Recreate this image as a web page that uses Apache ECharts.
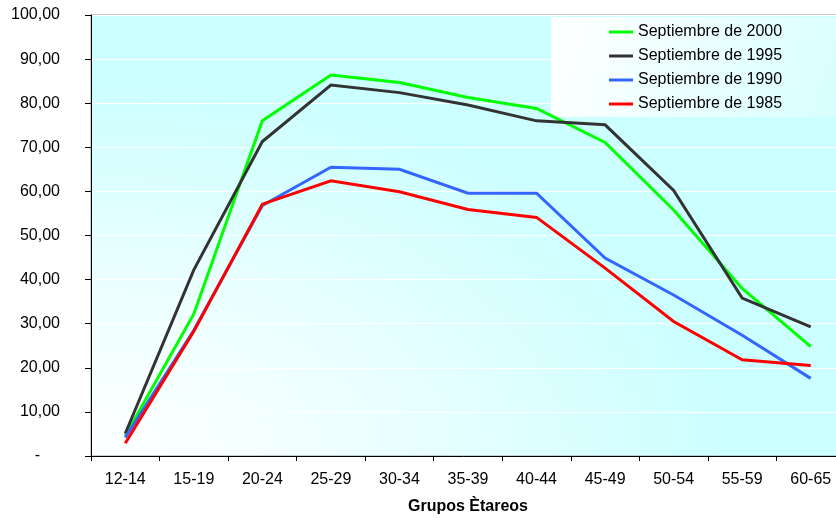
<!DOCTYPE html>
<html>
<head>
<meta charset="utf-8">
<title>Grupos Ètareos</title>
<script src="https://cdn.jsdelivr.net/npm/echarts@6/dist/echarts.min.js"></script>
<style>
  html, body { margin: 0; padding: 0; background: #ffffff; }
  #chart { width: 836px; height: 518px; }
</style>
</head>
<body>
<div id="chart"></div>
<script>
// Age groups on the category axis
const categories = ['12-14', '15-19', '20-24', '25-29', '30-34', '35-39', '40-44', '45-49', '50-54', '55-59', '60-65'];

// Rates per survey (September of each year)
const sep2000 = [4.6, 32.2, 76.0, 86.4, 84.7, 81.3, 78.8, 71.1, 55.8, 38.0, 24.8];
const sep1995 = [5.1, 42.2, 71.3, 84.1, 82.4, 79.6, 76.0, 75.1, 60.2, 35.8, 29.3];
const sep1990 = [4.2, 28.5, 56.8, 65.5, 65.0, 59.6, 59.6, 44.9, 36.5, 27.4, 17.6];
const sep1985 = [2.9, 28.3, 57.1, 62.4, 59.9, 55.9, 54.1, 42.6, 30.5, 21.8, 20.5];

const seriesNames = ['Septiembre de 2000', 'Septiembre de 1995', 'Septiembre de 1990', 'Septiembre de 1985'];
const seriesData = [sep2000, sep1995, sep1990, sep1985];
const seriesColors = ['#00ff00', '#333333', '#3366ff', '#ff0000'];

// Value axis range
const yMin = 0, yMax = 100, yStep = 10;

// Plot area (px); the plot runs a little past the right edge of the canvas
const GRID = { left: 91, top: 15, width: 754, height: 441 };

const FONT = '"Liberation Sans", Arial, sans-serif';

const chart = echarts.init(document.getElementById('chart'), null, { renderer: 'canvas' });

const fmt = v => v === 0 ? '{dash|-}' : v.toFixed(2).replace('.', ',');

chart.setOption({
  animation: false,
  backgroundColor: '#ffffff',
  textStyle: { fontFamily: FONT },
  graphic: [
    {
      // corner gradient behind the plot: white at bottom-left fading to cyan
      type: 'rect',
      z: -1,
      x: GRID.left,
      y: GRID.top,
      scaleX: GRID.width / GRID.height,
      shape: { x: 0, y: 0, width: GRID.height, height: GRID.height },
      style: {
        fill: {
          type: 'radial', x: 0, y: 1, r: 0.85,
          colorStops: [
            { offset: 0, color: '#ffffff' },
            { offset: 0.45, color: '#ecffff' },
            { offset: 1, color: '#ccffff' }
          ]
        }
      },
      silent: true
    },
    {
      // legend panel
      type: 'rect',
      z: 1,
      x: 551,
      y: 17,
      shape: { x: 0, y: 0, width: 300, height: 100 },
      style: {
        fill: {
          type: 'linear', x: 0, y: 0, x2: 1, y2: 1,
          colorStops: [
            { offset: 0, color: '#ffffff' },
            { offset: 1, color: '#d6ffff' }
          ]
        }
      },
      silent: true
    }
  ],
  grid: {
    left: GRID.left, top: GRID.top, width: GRID.width, height: GRID.height,
    outerBoundsMode: 'none',
    containLabel: false,
    show: true,
    backgroundColor: 'transparent',
    borderColor: '#9a9a9a',
    borderWidth: 1
  },
  legend: {
    orient: 'vertical',
    left: 609,
    top: 24,
    padding: 0,
    icon: 'rect',
    itemWidth: 24,
    itemHeight: 3,
    itemGap: 8,
    z: 5,
    data: seriesNames,
    textStyle: { fontFamily: FONT, fontSize: 16, color: '#000000', lineHeight: 16 }
  },
  xAxis: {
    type: 'category',
    data: categories,
    boundaryGap: true,
    name: 'Grupos Ètareos',
    nameLocation: 'middle',
    nameGap: 43,
    nameTextStyle: { fontFamily: FONT, fontSize: 16, fontWeight: 'bold', color: '#000000' },
    axisLine: { lineStyle: { color: '#000000', width: 1 } },
    axisTick: { show: true, length: 5, alignWithLabel: false, lineStyle: { color: '#000000' } },
    axisLabel: { fontFamily: FONT, fontSize: 16, color: '#000000', margin: 16, interval: 0 },
    splitLine: { show: false }
  },
  yAxis: {
    type: 'value',
    min: yMin, max: yMax, interval: yStep,
    axisLine: { show: true, lineStyle: { color: '#000000', width: 1 } },
    axisTick: { show: true, length: 6, lineStyle: { color: '#000000' } },
    axisLabel: {
      fontFamily: FONT, fontSize: 16, color: '#000000', margin: 31,
      formatter: fmt,
      rich: { dash: { fontFamily: FONT, fontSize: 16, color: '#000000', padding: [0, 20, 0, 0] } }
    },
    splitLine: { show: true, lineStyle: { color: '#ffffff', width: 1 } }
  },
  series: seriesNames.map((name, i) => ({
    name: name,
    type: 'line',
    data: seriesData[i],
    symbol: 'none',
    smooth: false,
    z: 2,
    itemStyle: { color: seriesColors[i] },
    lineStyle: { color: seriesColors[i], width: 3, cap: 'butt', join: 'miter' }
  }))
});
</script>
</body>
</html>
